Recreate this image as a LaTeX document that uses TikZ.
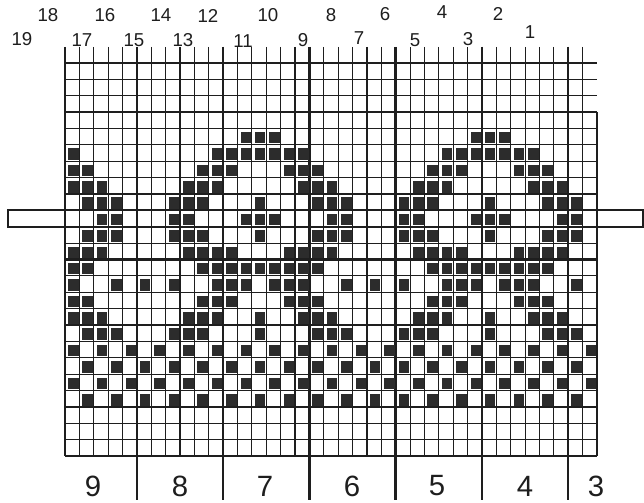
\documentclass[tikz,border=0pt]{standalone}
\usepackage{fontspec}
\setmainfont{Liberation Sans}
\definecolor{ink}{HTML}{1E1E1E}
\definecolor{sqc}{HTML}{2C2C2C}
\begin{document}
\begin{tikzpicture}[x=0.75pt,y=-0.75pt,
  thinline/.style={draw=ink,line width=0.85pt},
  thickline/.style={draw=ink,line width=1.8pt},
  barline/.style={draw=ink,line width=1.5pt,fill=white},
  toplabel/.style={font=\fontsize{14}{14}\selectfont,text=ink,inner sep=0pt},
  botlabel/.style={font=\fontsize{22}{22}\selectfont,text=ink,inner sep=0pt}]
\path[use as bounding box, fill=white] (0,0) rectangle (644,503);
\pgfmathsetmacro{\gxo}{65}
\pgfmathsetmacro{\cwd}{14.378}
\pgfmathsetmacro{\gyo}{63}
\pgfmathsetmacro{\rht}{16.375}
% bar
\draw[barline] (8,{\gyo+9*\rht}) rectangle (643,{\gyo+10*\rht});
% vertical thin lines
\foreach \i in {0,...,36} {
  \draw[thinline] ({\gxo+\i*\cwd},47) -- ({\gxo+\i*\cwd},456);
}
\draw[thinline] ({\gxo+37*\cwd},{\gyo+3*\rht}) -- ({\gxo+37*\cwd},456);
% horizontal thin lines
\foreach \j in {0,...,24} {
  \draw[thinline] (\gxo,{\gyo+\j*\rht}) -- ({\gxo+37*\cwd},{\gyo+\j*\rht});
}
% thick horizontal
\foreach \j in {3,12,21} {
  \draw[thickline] (\gxo,{\gyo+\j*\rht}) -- ({\gxo+37*\cwd},{\gyo+\j*\rht});
}
% bar lines across grid
\foreach \j in {9,10} {
  \draw[barline] (8,{\gyo+\j*\rht}) -- (643,{\gyo+\j*\rht});
}
% thick vertical
\foreach \i in {5,11,17,23,29,35} {
  \draw[thickline] ({\gxo+\i*\cwd},47) -- ({\gxo+\i*\cwd},500);
}
% filled squares (pattern repeats every 16 columns)
\foreach \r/\plist in {
  4/{12,13,14},
  5/{0,10,11,12,13,14,15},
  6/{0,1,9,10,11,15},
  7/{0,1,2,8,9,10},
  8/{1,2,3,7,8,9,13},
  9/{2,3,7,8,12,13,14},
  10/{1,2,3,7,8,9,13},
  11/{0,1,2,8,9,10,11,15},
  12/{0,1,9,10,11,12,13,14,15},
  13/{0,3,5,7,10,11,12,14,15},
  14/{0,1,9,10,11,15},
  15/{0,1,2,8,9,10,13},
  16/{1,2,3,7,8,9,13},
  17/{0,2,4,6,8,10,12,14},
  18/{1,3,5,7,9,11,13,15},
  19/{0,2,4,6,8,10,12,14},
  20/{1,3,5,7,9,11,13,15}} {
  \foreach \p in \plist {
    \foreach \k in {0,16,32} {
      \pgfmathtruncatemacro{\cc}{\p+\k}
      \ifnum\cc<37
        \fill[sqc] ({\gxo+\cc*\cwd+3},{\gyo+\r*\rht+3.5}) rectangle ++(10.5,11.5);
      \fi
    }
  }
}
% top labels
\node[toplabel] (t18) at (48,15) {18};
\node[toplabel] (t16) at (105,15) {16};
\node[toplabel] (t14) at (161,15) {14};
\node[toplabel] (t12) at (208,16) {12};
\node[toplabel] (t10) at (268,15) {10};
\node[toplabel] (t8) at (331,15) {8};
\node[toplabel] (t6) at (385,14) {6};
\node[toplabel] (t4) at (442,12) {4};
\node[toplabel] (t2) at (498,14) {2};
\node[toplabel] (t19) at (22,39) {19};
\node[toplabel] (t17) at (82,40) {17};
\node[toplabel] (t15) at (134,40) {15};
\node[toplabel] (t13) at (183,40) {13};
\node[toplabel] (t11) at (243,41) {11};
\node[toplabel] (t9) at (303,40) {9};
\node[toplabel] (t7) at (359,38) {7};
\node[toplabel] (t5) at (415,40) {5};
\node[toplabel] (t3) at (468,39) {3};
\node[toplabel] (t1) at (530,32) {1};
% bottom labels
\node[botlabel] (b9) at (93,486) {9};
\node[botlabel] (b8) at (180,486) {8};
\node[botlabel] (b7) at (265,486) {7};
\node[botlabel] (b6) at (352,486) {6};
\node[botlabel] (b5) at (437,486) {5};
\node[botlabel] (b4) at (525,486) {4};
\node[botlabel] (b3) at (596,486) {3};
\end{tikzpicture}
\end{document}
